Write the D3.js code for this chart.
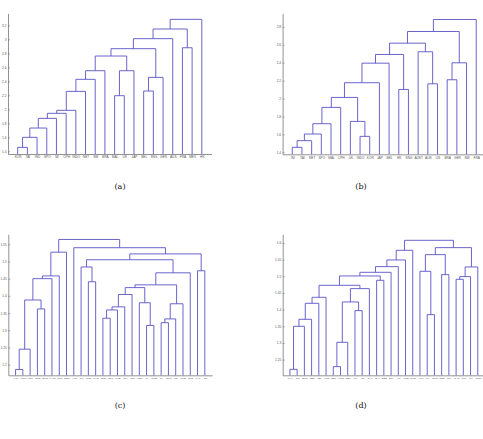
<!DOCTYPE html>
<html>
<head>
<meta charset="utf-8">
<script src="https://cdn.jsdelivr.net/npm/d3@7"></script>
<style>
  body { margin: 0; background: #fff; }
  svg { display: block; }
</style>
</head>
<body>
<svg id="chart" width="483" height="439"></svg>
<script>
// leaf labels (left to right as drawn), merges [left, right, height], y ticks
// merge indices: 0..n-1 are leaves, n, n+1, ... are the clusters made by each row

const aLabels = ["KOR", "TAI", "IND", "SPO", "MI", "CPH", "INDO", "NET", "SW", "BRA",
  "MAL", "US", "JAP", "BEL", "SNG", "GER", "AUS", "FRA", "MEX", "HK"];
const aLinks = [
  [0, 1, 1.457], [20, 2, 1.6], [21, 3, 1.733], [22, 4, 1.871], [23, 5, 1.943],
  [24, 6, 1.986], [25, 7, 2.257], [26, 8, 2.429], [27, 9, 2.552], [10, 11, 2.195],
  [29, 12, 2.552], [28, 30, 2.762], [13, 14, 2.262], [32, 15, 2.457], [31, 33, 2.867],
  [34, 16, 3.01], [17, 18, 2.88], [35, 36, 3.148], [37, 19, 3.286]
];
const aTicks = [1.4, 1.6, 1.8, 2, 2.2, 2.4, 2.6, 2.8, 3, 3.2];

const bLabels = ["INI", "TAI", "NET", "SPO", "MAL", "CPH", "UK", "INDO", "KOR", "JAP",
  "BEL", "HK", "SNG", "AUST", "AUS", "US", "BRA", "GER", "SW", "FRA"];
const bLinks = [
  [0, 1, 1.456], [20, 2, 1.53], [21, 3, 1.604], [22, 4, 1.719], [23, 5, 1.901],
  [7, 8, 1.578], [6, 25, 1.745], [24, 26, 2.012], [27, 9, 2.176], [28, 10, 2.394],
  [11, 12, 2.101], [29, 30, 2.491], [14, 15, 2.164], [13, 32, 2.521], [31, 33, 2.617],
  [16, 17, 2.209], [35, 18, 2.398], [34, 36, 2.747], [37, 19, 2.881]
];
const bTicks = [1.4, 1.6, 1.8, 2, 2.2, 2.4, 2.6, 2.8];

const cLabels = ["HKT", "TWN", "SGL", "BGR", "BMG", "KAST", "SMP", "BNG", "AUS", "CHI",
  "NOR", "SAD", "MMN", "GRU", "SVE", "SUI", "JPN", "NOU", "ITA", "SWE", "SA", "BPC",
  "USA", "SWD", "SOR", "JAP", "NZ"];
const cLinks = [
  [0, 1, 1.186], [27, 2, 1.245], [3, 4, 1.362], [28, 29, 1.388], [30, 5, 1.45],
  [31, 6, 1.458], [32, 7, 1.527], [10, 11, 1.441], [9, 34, 1.484], [12, 13, 1.335],
  [36, 14, 1.359], [37, 15, 1.368], [38, 16, 1.404], [18, 19, 1.314], [17, 40, 1.38],
  [39, 41, 1.424], [20, 21, 1.322], [43, 22, 1.333], [44, 23, 1.377], [42, 45, 1.432],
  [46, 24, 1.467], [35, 47, 1.505], [25, 26, 1.473], [48, 49, 1.522], [8, 50, 1.54],
  [33, 51, 1.564]
];
const cTicks = [1.2, 1.25, 1.3, 1.35, 1.4, 1.45, 1.5, 1.55];

const dLabels = ["MAL", "SW", "BMG", "SEN", "BE", "AUST", "BEF", "TWN", "BEL", "UK",
  "US", "NAL", "QAT", "BBB", "BRA", "TU", "USB", "SWR", "AUS", "ITA", "SMR", "DEN",
  "FRA", "CAN", "SWI", "JLY", "GRE"];
const dLinks = [
  [0, 1, 1.221], [27, 2, 1.35], [28, 3, 1.371], [29, 4, 1.419], [30, 5, 1.437],
  [6, 7, 1.229], [32, 8, 1.302], [9, 10, 1.397], [33, 34, 1.423], [35, 11, 1.463],
  [31, 36, 1.473], [12, 13, 1.488], [37, 38, 1.501], [39, 14, 1.512], [40, 15, 1.529],
  [41, 16, 1.549], [42, 17, 1.578], [19, 20, 1.385], [18, 44, 1.515], [21, 22, 1.505],
  [45, 46, 1.565], [23, 24, 1.491], [48, 25, 1.499], [49, 26, 1.528], [47, 50, 1.586],
  [43, 51, 1.608]
];
const dTicks = [1.25, 1.3, 1.35, 1.4, 1.45, 1.5, 1.55, 1.6];

const captions = ["(a)", "(b)", "(c)", "(d)"];

const svg = d3.select("svg#chart");
const lineColor = "#5a53c6";
const axisColor = "#777";

// panel boxes (layout only)
const panels = [
  { labels: aLabels, links: aLinks, ticks: aTicks, leafFont: 3.2,
    left: 8, right: 211.5, top: 13.4, bottom: 154, yDomain: [1.362, 3.371], cap: [120, 189] },
  { labels: bLabels, links: bLinks, ticks: bTicks, leafFont: 3.2,
    left: 282.6, right: 485.9, top: 13.3, bottom: 154.3, yDomain: [1.378, 2.95], cap: [361, 189] },
  { labels: cLabels, links: cLinks, ticks: cTicks, leafFont: 2.5,
    left: 8.3, right: 212.1, top: 234.3, bottom: 375.3, yDomain: [1.169, 1.579], cap: [120, 408] },
  { labels: dLabels, links: dLinks, ticks: dTicks, leafFont: 2.5,
    left: 282.7, right: 485, top: 234.3, bottom: 375.3, yDomain: [1.203, 1.626], cap: [361, 408] }
];

panels.forEach((p, k) => {
  const n = p.labels.length;
  const x = d3.scaleLinear().domain([0, n + 1]).range([p.left, p.right]);
  const y = d3.scaleLinear().domain(p.yDomain).range([p.bottom, p.top]);

  const g = svg.append("g").attr("class", "panel");

  // axes
  const yAxis = d3.axisLeft(y).tickValues(p.ticks).tickFormat(d3.format("~g"))
    .tickSize(-2).tickSizeOuter(0).tickPadding(1.5);
  const yg = g.append("g")
    .attr("transform", `translate(${p.left},0)`)
    .call(yAxis);

  const xAxis = d3.axisBottom(x).tickValues(d3.range(1, n + 1))
    .tickFormat((i) => p.labels[i - 1]).tickSize(0).tickSizeOuter(0).tickPadding(2);
  const xg = g.append("g")
    .attr("transform", `translate(0,${p.bottom})`)
    .call(xAxis);

  [yg, xg].forEach((a) => {
    a.select(".domain").attr("stroke", axisColor).attr("stroke-width", 0.8);
    a.selectAll(".tick line").attr("stroke", axisColor).attr("stroke-width", 0.6);
    a.selectAll(".tick text").attr("fill", "#555")
      .attr("font-family", "Liberation Sans, Arial, sans-serif")
      .attr("font-size", 3.2);
  });
  xg.selectAll(".tick text").attr("font-size", p.leafFont);

  // dendrogram links
  const xs = p.labels.map((d, i) => i + 1);
  const hs = p.labels.map(() => p.yDomain[0]);
  const paths = [];
  p.links.forEach(([a, b, h]) => {
    paths.push(
      `M${x(xs[a])},${y(hs[a])}V${y(h)}H${x(xs[b])}V${y(hs[b])}`
    );
    xs.push((xs[a] + xs[b]) / 2);
    hs.push(h);
  });

  g.append("g")
    .selectAll("path")
    .data(paths)
    .join("path")
    .attr("d", (d) => d)
    .attr("fill", "none")
    .attr("stroke", lineColor)
    .attr("stroke-width", 0.9);

  svg.append("text")
    .attr("x", p.cap[0])
    .attr("y", p.cap[1])
    .attr("text-anchor", "middle")
    .attr("font-family", "DejaVu Serif, Liberation Serif, serif")
    .attr("font-size", 8)
    .attr("fill", "#111")
    .text(captions[k]);
});
</script>
</body>
</html>
